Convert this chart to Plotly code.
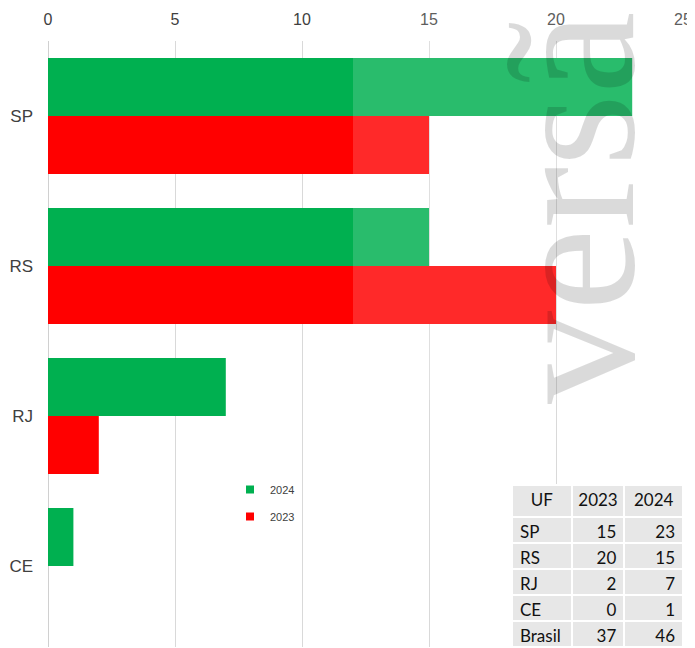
import plotly.graph_objects as go

# ---- data ----
ufs = ["SP", "RS", "RJ", "CE"]
v2024 = [23, 15, 7, 1]
v2023 = [15, 20, 2, 0]
x_ticks = [0, 5, 10, 15, 20, 25]

table_header = ["UF", "2023", "2024"]
table_uf = ["SP", "RS", "RJ", "CE", "Brasil"]
table_2023 = [15, 20, 2, 0, 37]
table_2024 = [23, 15, 7, 1, 46]

watermark = "versã"

GREEN = "#00B050"
RED = "#FF0000"

OFF = 8  # page body margin
W, H = 695 - OFF, 648 - OFF
ML, MR, MT, MB = 48 - OFF, 12, 41 - OFF, 1
PW, PH = W - ML - MR, H - MT - MB


def px_x(p):  # screen pixel -> paper
    return (p - OFF - ML) / PW


def px_y(p):
    return (H - MB - (p - OFF)) / PH


fig = go.Figure()
fig.add_trace(go.Bar(name="2024", y=ufs, x=v2024, orientation="h", legendgroup="a",
                     showlegend=False,
                     marker=dict(color=GREEN, line=dict(width=0))))
fig.add_trace(go.Bar(name="2023", y=ufs, x=v2023, orientation="h", legendgroup="b",
                     showlegend=False,
                     marker=dict(color=RED, line=dict(width=0))))
# legend entries with small square keys
for name, col, grp in [("2024", GREEN, "a"), ("2023", RED, "b")]:
    fig.add_trace(go.Scatter(name=name, x=[None], y=[None], mode="markers",
                             legendgroup=grp, hoverinfo="skip",
                             marker=dict(symbol="square", size=8, color=col,
                                         line=dict(width=0))))

fig.add_trace(go.Table(
    domain=dict(x=[px_x(512), 1.0], y=[0, px_y(485)]),
    columnwidth=[59, 52, 58],
    header=dict(values=table_header, height=32, fill_color="#E7E7E7",
                line=dict(color="white", width=2), align="center",
                font=dict(family="Lato", size=17, color="#111111")),
    cells=dict(values=[table_uf, table_2023, table_2024], height=26,
               fill_color="#E7E7E7", line=dict(color="white", width=2),
               align=["left", "right", "right"],
               font=dict(family="Lato", size=17, color="#111111")),
))

fig.update_layout(
    width=W, height=H,
    margin=dict(l=ML, r=MR, t=MT, b=MB, pad=0, autoexpand=False),
    paper_bgcolor="white", plot_bgcolor="white",
    barmode="group", bargap=0.227, bargroupgap=0,
    font=dict(family="Liberation Sans", color="#404040"),
    xaxis=dict(side="top", range=[0, 25], tickvals=x_ticks, automargin=False,
               showgrid=True, gridcolor="#D9D9D9", gridwidth=1,
               zeroline=True, zerolinecolor="#D0D0D0", zerolinewidth=1,
               showline=False, ticks="", ticklabelstandoff=12,
               tickfont=dict(family="Liberation Sans", size=16, color="#404040")),
    yaxis=dict(type="category", categoryarray=ufs, range=[3.54, -0.5],
               automargin=False,
               showgrid=False, zeroline=False, showline=False, ticks="",
               ticklabelstandoff=14,
               tickfont=dict(family="Liberation Sans", size=17, color="#404040")),
    legend=dict(x=px_x(230), y=px_y(475), xanchor="left", yanchor="top",
                traceorder="grouped",
                bgcolor="rgba(0,0,0,0)", font=dict(size=11, color="#404040",
                                                   family="Liberation Sans"),
                tracegroupgap=8, itemwidth=30),
    showlegend=True,
)

# watermark lightening area
fig.add_shape(type="rect", xref="paper", yref="paper",
              x0=px_x(353), x1=px_x(695), y0=px_y(400), y1=px_y(OFF),
              fillcolor="rgba(255,255,255,0.16)", line=dict(width=0), layer="above")

fig.add_annotation(text=watermark, xref="paper", yref="paper",
                   x=px_x(570), y=px_y(208), xanchor="center", yanchor="middle",
                   textangle=-90, showarrow=False,
                   font=dict(family="Liberation Serif", size=186,
                             color="rgba(0,0,0,0.145)"))

fig.write_html("out.html")
